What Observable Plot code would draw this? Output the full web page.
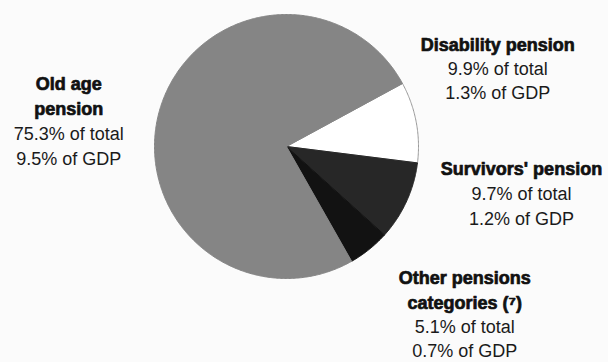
<!DOCTYPE html>
<html>
<head>
<meta charset="utf-8">
<script src="https://cdn.jsdelivr.net/npm/d3@7"></script>
<script src="https://cdn.jsdelivr.net/npm/@observablehq/plot@0.6"></script>
<style>
  html, body { margin: 0; padding: 0; background: #fbfbfb; }
  #chart { width: 608px; height: 362px; }
  svg { display: block; }
</style>
</head>
<body>
<div id="chart"></div>
<script>
// Data (clockwise from the disability slice)
const categories = ["Disability pension", "Survivors' pension", "Other pensions categories (⁷)", "Old age pension"];
const shareOfTotal = [9.9, 9.7, 5.1, 75.3];
const shareOfGDP = [1.3, 1.2, 0.7, 9.5];
const titleLines = [
  ["Disability pension"],
  ["Survivors' pension"],
  ["Other pensions", "categories (⁷)"],
  ["Old age", "pension"]
];

// Styling / layout (kept separate from the data)
const sliceFill = ["#ffffff", "#272727", "#121212", "#858585"];
const sliceStroke = ["#9a9a9a", "#272727", "#121212", "#858585"];
const startAngleDeg = 61.5; // start of first slice, clockwise from north
// label anchors in pie units (x right, y up), centre of first line
const labelAnchor = [
  [1.60, 0.77],
  [1.78, -0.17],
  [1.35, -1.00],
  [-1.65, 0.47]
];
const lineStep = [0.183, 0.19, 0.184, 0.188];

const table = categories.map((c, i) => ({
  category: c, total: shareOfTotal[i], gdp: shareOfGDP[i], i
}));

const start = startAngleDeg * Math.PI / 180;
const arcs = d3.pie().sort(null).value(d => d.total)
  .startAngle(start).endAngle(start + 2 * Math.PI)(table);

// Build polygon outlines of each slice (angles clockwise from north)
const slicePts = [];
arcs.forEach(a => {
  const n = Math.max(4, Math.ceil((a.endAngle - a.startAngle) / 0.01));
  slicePts.push({x: 0, y: 0, i: a.data.i});
  for (let k = 0; k <= n; k++) {
    const t = a.startAngle + (a.endAngle - a.startAngle) * k / n;
    slicePts.push({x: Math.sin(t), y: Math.cos(t), i: a.data.i});
  }
  slicePts.push({x: 0, y: 0, i: a.data.i});
});

// Label lines
const labelRows = [];
table.forEach((d, i) => {
  const lines = titleLines[i].map(t => ({text: t, bold: true}))
    .concat([{text: d.total.toFixed(1) + "% of total", bold: false},
             {text: d.gdp.toFixed(1) + "% of GDP", bold: false}]);
  lines.forEach((l, k) => {
    labelRows.push({x: labelAnchor[i][0], y: labelAnchor[i][1] - k * lineStep[i], text: l.text, bold: l.bold});
  });
});

const R = 132, cx = 286, cy = 146;
const chart = Plot.plot({
  width: 608,
  height: 362,
  marginLeft: cx - R,
  marginRight: 608 - (cx + R),
  marginTop: cy - R,
  marginBottom: 362 - (cy + R),
  x: {domain: [-1, 1], axis: null},
  y: {domain: [-1, 1], axis: null},
  style: {background: "#fbfbfb", fontFamily: "'Liberation Sans', Arial, sans-serif"},
  marks: [
    Plot.line(slicePts, {
      x: "x", y: "y", z: "i",
      fill: d => sliceFill[d.i],
      stroke: d => sliceStroke[d.i],
      strokeWidth: 1,
      curve: "linear"
    }),
    Plot.text(labelRows.filter(d => d.bold), {
      x: "x", y: "y", text: "text",
      fontSize: 18, fontWeight: "bold", fill: "#111",
      stroke: "#111", strokeWidth: 0.7,
      textAnchor: "middle", clip: false
    }),
    Plot.text(labelRows.filter(d => !d.bold), {
      x: "x", y: "y", text: "text",
      fontSize: 18, fill: "#1a1a1a",
      textAnchor: "middle", clip: false
    })
  ]
});
chart.style.overflow = "visible";
document.getElementById("chart").appendChild(chart);
</script>
</body>
</html>
